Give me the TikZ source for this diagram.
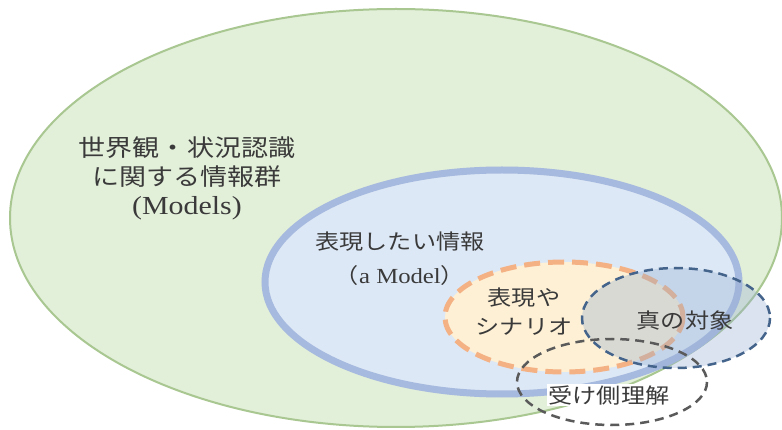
\documentclass[tikz,border=0pt]{standalone}
\usepackage{fontspec}
\newfontfamily\jp{Noto Sans CJK JP}
\newfontfamily\lat{Liberation Serif}
\definecolor{gfill}{HTML}{E2EFD9}
\definecolor{gline}{HTML}{A9C791}
\definecolor{bfill}{HTML}{DDE8F6}
\definecolor{bline}{HTML}{A6B9DE}
\definecolor{ofill}{HTML}{FDF0D5}
\definecolor{oline}{HTML}{F4B183}
\definecolor{tfill}{RGB}{150,175,210}
\definecolor{tline}{HTML}{45648C}
\definecolor{rline}{HTML}{5A5A5A}
\definecolor{txt}{HTML}{3A3A3A}
\tikzset{
  lbl/.style={text=txt, align=center, inner sep=1pt, xscale=1.15, transform shape},
  big/.style={lbl, font=\jp\fontsize{23.5}{29}\selectfont},
  small/.style={lbl, font=\jp\fontsize{21}{29}\selectfont},
}
\begin{document}
\begin{tikzpicture}[x=1pt,y=-1pt]
\useasboundingbox (0,0) rectangle (782,430);
\fill[white] (0,0) rectangle (782,430);
% world
\draw[fill=gfill, draw=gline, line width=2pt] (396,218) ellipse [x radius=386, y radius=209];
% a model
\draw[fill=bfill, draw=bline, line width=7pt] (502,282) ellipse [x radius=237, y radius=112];
% scenario
\draw[fill=ofill, draw=oline, line width=5pt, dash pattern=on 16pt off 8pt] (564,317) ellipse [x radius=119, y radius=55];
% true object
\fill[tfill, fill opacity=0.35] (676,318) ellipse [x radius=94, y radius=50];
\draw[tline, line width=2.5pt, dash pattern=on 9pt off 6pt] (676,318) ellipse [x radius=94, y radius=50];
% receiver
\draw[rline, line width=2.5pt, dash pattern=on 9pt off 6pt] (612,382) ellipse [x radius=95, y radius=43];
% labels
\node[big] (world) at (187,178) {世界観・状況認識\\に関する情報群\\{\lat\fontsize{26}{29}\selectfont (Models)}};
\node[small, font=\jp\fontsize{21}{34}\selectfont] (model) at (400,259) {表現したい情報\\（{\lat\fontsize{21.5}{34}\selectfont a Model}）};
\node[small] (scen) at (524,312) {表現や\\シナリオ};
\node[small] (truth) at (685,321) {真の対象};
\node[small, fill=white] (recv) at (609,395) {受け側理解};
\end{tikzpicture}
\end{document}
